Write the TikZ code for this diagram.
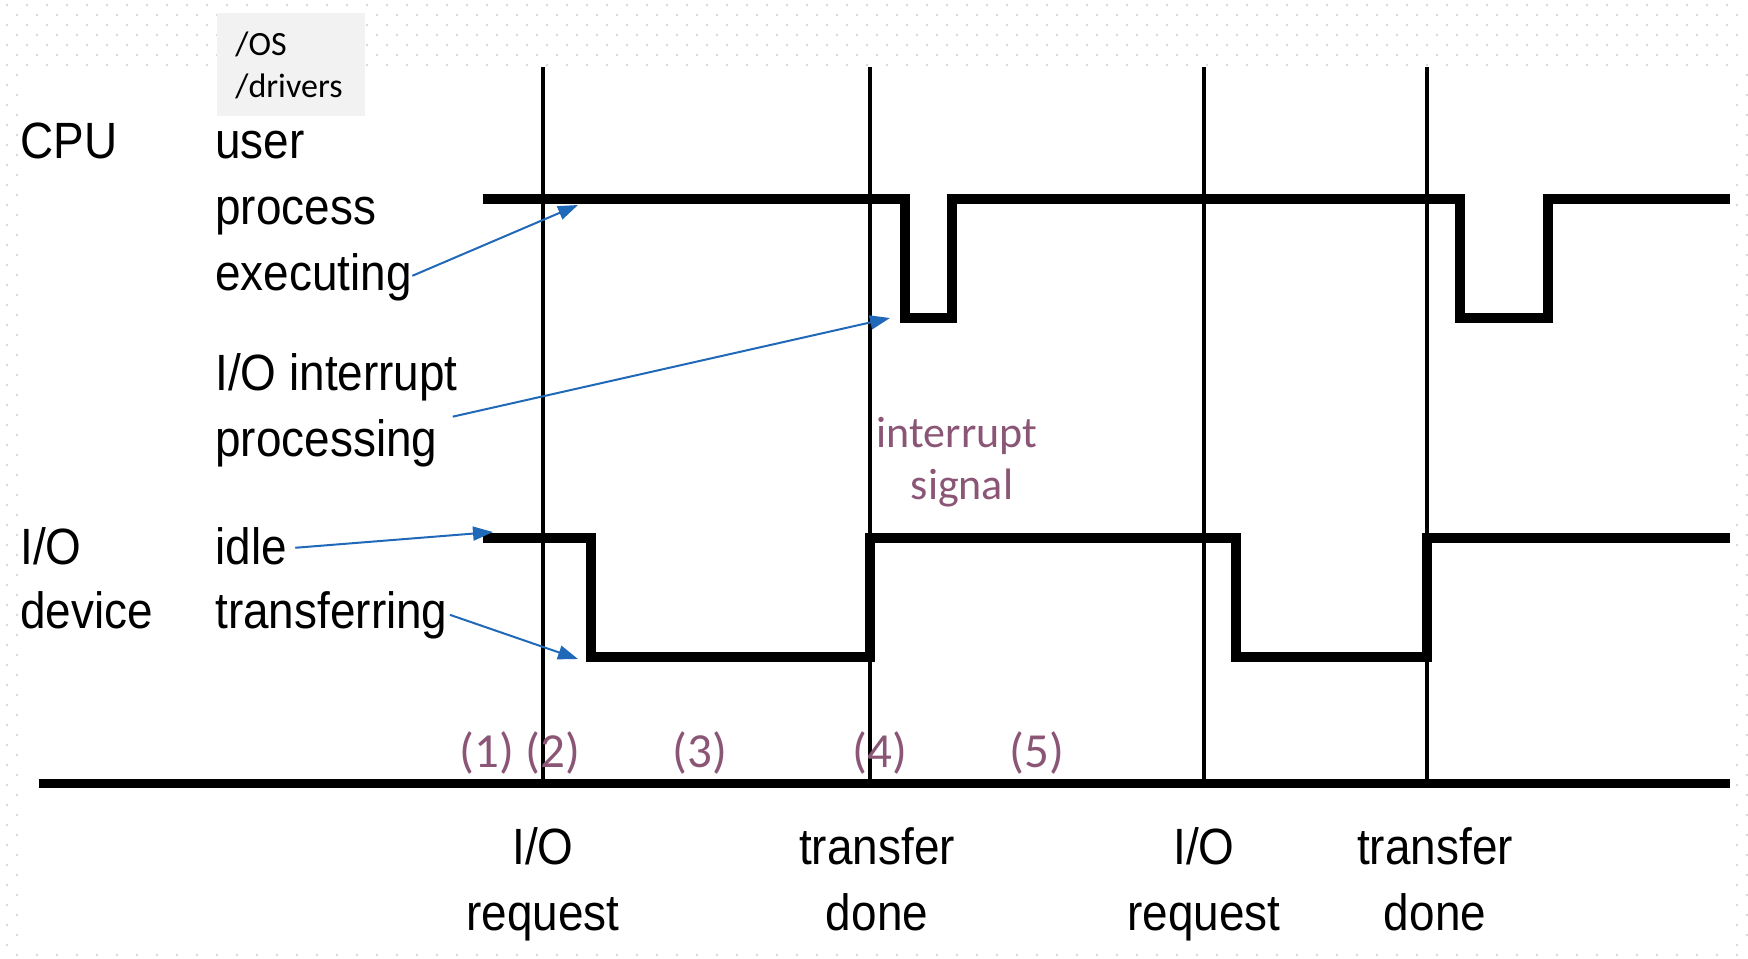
\documentclass[tikz,border=0pt]{standalone}
\usepackage{fontspec}
\setmainfont{Liberation Sans}[FakeStretch=0.9]
\newfontfamily\calib{Carlito}
\usetikzlibrary{arrows.meta,calc}
\definecolor{mauve}{HTML}{8B5676}
\definecolor{arrowblue}{HTML}{2068B8}
\definecolor{dotgray}{HTML}{D6D6D6}
\definecolor{boxgray}{HTML}{F2F2F2}
\tikzset{
  lbl/.style={inner sep=0pt, anchor=base west, font=\fontsize{25.5}{30}\selectfont},
  tlbl/.style={inner sep=0pt, anchor=base, font=\fontsize{25.5}{30}\selectfont},
  note/.style={inner sep=0pt, anchor=base, text=mauve, font=\calib\fontsize{22}{26}\selectfont},
  num/.style={inner sep=0pt, anchor=base, text=mauve, font=\calib\fontsize{24.5}{28}\selectfont},
  oslbl/.style={inner sep=0pt, anchor=base west, font=\calib\fontsize{17}{20}\selectfont},
  sig/.style={line width=5pt, line join=miter},
  marker/.style={line width=1.75pt},
  axisline/.style={line width=4.5pt},
  ptr/.style={arrowblue, line width=1pt, -{Triangle[length=10pt,width=7pt]}},
  bgdot/.style={fill=dotgray},
}
\begin{document}
\begin{tikzpicture}[x=0.5pt,y=-0.5pt]
\useasboundingbox (0,0) rectangle (1748,958);
% background dots in margins
\foreach \r in {0,...,6} {\foreach \c in {0,...,86} {\fill[bgdot] ({7+20*\c+10*mod(\r,2)},{5+10*\r}) circle[radius=0.7pt];}}
\foreach \c in {0,...,86} {\fill[bgdot] ({7+20*\c+10*mod(95,2)},{955}) circle[radius=0.7pt];}
\foreach \r in {7,...,94} {\fill[bgdot] ({7+10*mod(\r,2)},{5+10*\r}) circle[radius=0.7pt];
  \fill[bgdot] ({1737+10*mod(\r,2)},{5+10*\r}) circle[radius=0.7pt];}

% /OS /drivers box
\fill[boxgray] (217,13) rectangle (365,116);
\node[oslbl] (os) at (235,55) {/OS};
\node[oslbl] (drv) at (235,97) {/drivers};

% left labels
\node[lbl] (cpu) at (20,158) {CPU};
\node[lbl] (user) at (215,158) {user};
\node[lbl] (process) at (215,224) {process};
\node[lbl] (exec) at (215,290) {executing};
\node[lbl] (iointr) at (215,390) {I/O interrupt};
\node[lbl] (proc) at (215,456) {processing};
\node[lbl] (io) at (20,564) {I/O};
\node[lbl] (device) at (20,628) {device};
\node[lbl] (idle) at (215,564) {idle};
\node[lbl] (transf) at (215,628) {transferring};

% vertical event lines
\draw[marker] (543,67) -- (543,783);
\draw[marker] (870,67) -- (870,783);
\draw[marker] (1204,67) -- (1204,783);
\draw[marker] (1427,67) -- (1427,783);

% time axis
\draw[axisline] (39,783) -- (1730,783);

% CPU signal
\draw[sig] (483,199) -- (905,199) -- (905,318) -- (952,318) -- (952,199) -- (1460,199) -- (1460,318) -- (1548,318) -- (1548,199) -- (1730,199);
% I/O signal
\draw[sig] (483,538) -- (591,538) -- (591,657) -- (870,657) -- (870,538) -- (1236,538) -- (1236,657) -- (1427,657) -- (1427,538) -- (1730,538);

% pointers
\coordinate (t1) at (578,205);
\coordinate (t2) at (890,318);
\coordinate (t3) at (493,532);
\coordinate (t4) at (578,659);
\draw[ptr] ($(exec.east)+(0,-1)$) -- (t1);
\draw[ptr] ($(proc.north east)+(15,-2)$) -- (t2);
\draw[ptr] ($(idle.east)+(8,2)$) -- (t3);
\draw[ptr] ($(transf.east)+(2,0)$) -- (t4);

% mauve notes
\node[note] (intr) at (957,447) {interrupt};
\node[note] (sigl) at (962,499) {signal};
\node[num] (n1) at (487,767) {(1)};
\node[num] (n2) at (553,767) {(2)};
\node[num] (n3) at (700,767) {(3)};
\node[num] (n4) at (880,767) {(4)};
\node[num] (n5) at (1037,767) {(5)};

% bottom labels
\node[tlbl] (reqa) at (543,864) {I/O};
\node[tlbl] (reqb) at (543,930) {request};
\node[tlbl] (donea) at (877,864) {transfer};
\node[tlbl] (doneb) at (877,930) {done};
\node[tlbl] (req2a) at (1204,864) {I/O};
\node[tlbl] (req2b) at (1204,930) {request};
\node[tlbl] (done2a) at (1435,864) {transfer};
\node[tlbl] (done2b) at (1435,930) {done};
\end{tikzpicture}
\end{document}
